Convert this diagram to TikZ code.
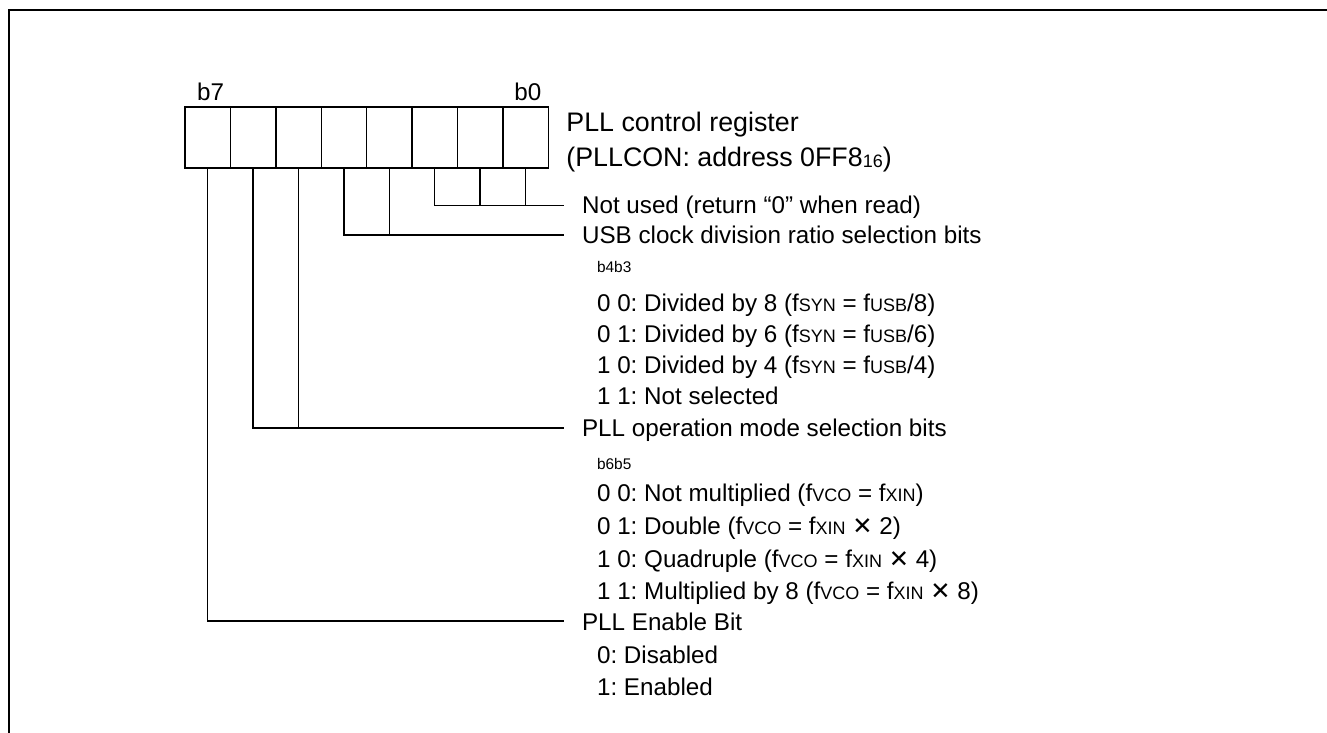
\documentclass[tikz,border=0pt]{standalone}
\usepackage{fontspec}
\setmainfont{Liberation Sans}
\newfontfamily\symf{DejaVu Sans}
\frenchspacing
\newcommand\smc[1]{{\fontsize{9}{10}\selectfont #1}}
\newcommand\tms{ {\symf ✕} }
\begin{document}
\begin{tikzpicture}[x=0.5pt,y=-0.5pt,
  cell/.style={draw,line width=0.7pt,minimum width=22.7pt,minimum height=30.5pt,inner sep=0pt,outer sep=0pt},
  lbl/.style={anchor=base west,inner sep=0pt,font=\fontsize{12.1}{14}\selectfont},
  ttl/.style={anchor=base west,inner sep=0pt,font=\fontsize{13.4}{16}\selectfont},
  sml/.style={anchor=base west,inner sep=0pt,font=\fontsize{7.7}{9}\selectfont},
  lead/.style={line width=0.7pt},
  frame/.style={line width=1pt}]
\useasboundingbox (0,0) rectangle (1327,733);
\draw[frame] (9.3,733) -- (9.3,10.5) -- (1327,10.5);
% register cells
\foreach \i/\x in {7/207.7,6/253.1,5/298.5,4/343.9,3/389.3,2/434.7,1/480.1,0/525.5}
  \node[cell] (c\i) at (\x,137.5) {};
\node[lbl] (b7) at (196.7,100.5) {b7};
\node[lbl] (b0) at (514,100.5) {b0};
\node[ttl] (title1) at (566,131.2) {PLL control register};
\node[ttl] (title2) at (566,166.2) {(PLLCON: address 0FF8\raisebox{-0.6pt}{\smc{16}})};
% lead end points
\coordinate (e0) at (564,205.5);
\coordinate (e3) at (564,235);
\coordinate (e5) at (564,428);
\coordinate (e7) at (564,621);
\draw[lead] (c2.south) |- (e0);
\draw[lead] (c1.south) -- (c1.south |- e0);
\draw[lead] (c0.south) -- (c0.south |- e0);
\draw[lead] (c4.south) |- (e3);
\draw[lead] (c3.south) -- (c3.south |- e3);
\draw[lead] (c6.south) |- (e5);
\draw[lead] (c5.south) -- (c5.south |- e5);
\draw[lead] (c7.south) |- (e7);
% texts
\node[lbl] (t0) at (581.7,213.8) {Not used (return “0” when read)};
\node[lbl] (t3) at (581.7,243.5) {USB clock division ratio selection bits};
\node[sml] (h3) at (596.7,272.5) {b4b3};
\node[lbl] (u1) at (596.7,311.5) {0 0: Divided by 8 (f\smc{SYN} = f\smc{USB}/8)};
\node[lbl] (u2) at (596.7,342) {0 1: Divided by 6 (f\smc{SYN} = f\smc{USB}/6)};
\node[lbl] (u3) at (596.7,373) {1 0: Divided by 4 (f\smc{SYN} = f\smc{USB}/4)};
\node[lbl] (u4) at (596.7,404.5) {1 1: Not selected};
\node[lbl] (t5) at (581.7,436.5) {PLL operation mode selection bits};
\node[sml] (h5) at (596.7,469.5) {b6b5};
\node[lbl] (p1) at (596.7,501.5) {0 0: Not multiplied (f\smc{VCO} = f\smc{XIN})};
\node[lbl] (p2) at (596.7,534.5) {0 1: Double (f\smc{VCO} = f\smc{XIN}\tms 2)};
\node[lbl] (p3) at (596.7,567.5) {1 0: Quadruple (f\smc{VCO} = f\smc{XIN}\tms 4)};
\node[lbl] (p4) at (596.7,599.5) {1 1: Multiplied by 8 (f\smc{VCO} = f\smc{XIN}\tms 8)};
\node[lbl] (t7) at (581.7,630.5) {PLL Enable Bit};
\node[lbl] (q1) at (596.7,663.5) {0: Disabled};
\node[lbl] (q2) at (596.7,695.5) {1: Enabled};
\end{tikzpicture}
\end{document}
